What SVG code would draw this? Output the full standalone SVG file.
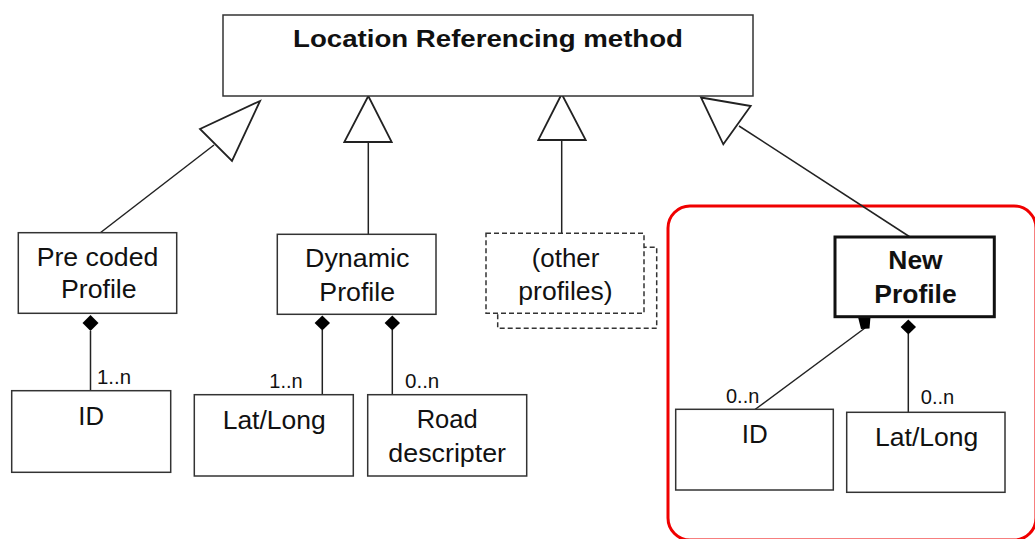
<svg xmlns="http://www.w3.org/2000/svg" width="1035" height="539" viewBox="0 0 1035 539">
<style>
.box{fill:#fff;stroke:#333;stroke-width:1.5}
.dash{fill:#fff;stroke:#333;stroke-width:1.5;stroke-dasharray:5,3}
.bold{fill:#fff;stroke:#111;stroke-width:3}
.ln{fill:none;stroke:#222;stroke-width:1.5}
.tri{fill:#fff;stroke:#222;stroke-width:1.8;stroke-linejoin:miter}
.dia{fill:#000;stroke:none}
.t{font-family:"Liberation Sans",Arial,sans-serif;font-size:25px;fill:#111;text-anchor:middle}
.tb{font-family:"Liberation Sans",Arial,sans-serif;font-size:25px;font-weight:bold;fill:#111;text-anchor:middle}
.m{font-family:"Liberation Sans",Arial,sans-serif;font-size:19.5px;fill:#111}
</style>
<rect x="0" y="0" width="1035" height="539" fill="#fff"/>
<rect x="668" y="206" width="368" height="334" rx="22" fill="none" stroke="#f00000" stroke-width="3"/>

<g id="connectors">
  <line class="ln" x1="100" y1="233" x2="214" y2="145"/>
  <polygon class="tri" points="260,101 200,129 232,161"/>
  <line class="ln" x1="368.3" y1="142" x2="368.3" y2="234"/>
  <polygon class="tri" points="368.3,96 344.3,142 391.7,142"/>
  <line class="ln" x1="561.7" y1="140" x2="561.7" y2="233"/>
  <polygon class="tri" points="561.7,94 538.3,140 585.7,140"/>
  <line class="ln" x1="739" y1="126" x2="910" y2="237"/>
  <polygon class="tri" points="701,97.5 750.7,106 723.3,144.3"/>

  <line class="ln" x1="90.5" y1="331" x2="90.5" y2="391"/>
  <polygon class="dia" points="90.5,315 98.5,323 90.5,331 82.5,323"/>
  <line class="ln" x1="322.3" y1="330" x2="322.3" y2="395"/>
  <polygon class="dia" points="322.3,315.5 330,323 322.3,330.5 314.6,323"/>
  <line class="ln" x1="392.3" y1="330" x2="392.3" y2="395"/>
  <polygon class="dia" points="392.3,315.5 400,323 392.3,330.5 384.6,323"/>
  <line class="ln" x1="865" y1="328" x2="755" y2="409.5"/>
  <polygon class="dia" points="858,317 870.5,317 869.5,328.5 861,329"/>
  <line class="ln" x1="908.3" y1="334" x2="908.3" y2="412.5"/>
  <polygon class="dia" points="908.3,319.5 916,327 908.3,334.5 900.6,327"/>

  <text class="m" x="97" y="384" textLength="34" lengthAdjust="spacingAndGlyphs">1..n</text>
  <text class="m" x="269.3" y="388.3" textLength="33.4" lengthAdjust="spacingAndGlyphs">1..n</text>
  <text class="m" x="405" y="388.3" textLength="34.3" lengthAdjust="spacingAndGlyphs">0..n</text>
  <text class="m" x="726" y="402.7" textLength="33.3" lengthAdjust="spacingAndGlyphs">0..n</text>
  <text class="m" x="920.7" y="404" textLength="33.6" lengthAdjust="spacingAndGlyphs">0..n</text>
</g>

<g id="location-referencing-method">
  <rect class="box" x="223" y="15" width="530" height="81"/>
  <text class="tb" x="488" y="47" style="font-size:24px" textLength="390" lengthAdjust="spacingAndGlyphs">Location Referencing method</text>
</g>

<g id="pre-coded-profile">
  <rect class="box" x="18.3" y="232.7" width="158.4" height="80.6"/>
  <text class="t" x="97.5" y="265.7" textLength="121.7" lengthAdjust="spacingAndGlyphs">Pre coded</text>
  <text class="t" x="98.8" y="298" textLength="75.7" lengthAdjust="spacingAndGlyphs">Profile</text>
</g>

<g id="dynamic-profile">
  <rect class="box" x="277.3" y="234.3" width="158.7" height="80"/>
  <text class="t" x="357.2" y="266.7" textLength="104.3" lengthAdjust="spacingAndGlyphs">Dynamic</text>
  <text class="t" x="357.2" y="301" textLength="75.7" lengthAdjust="spacingAndGlyphs">Profile</text>
</g>

<g id="other-profiles">
  <rect class="dash" x="497.7" y="247.3" width="159" height="81"/>
  <rect class="dash" x="486" y="233.3" width="158" height="80"/>
  <text class="t" x="565.5" y="266.7" textLength="67.7" lengthAdjust="spacingAndGlyphs">(other</text>
  <text class="t" x="565.5" y="300" textLength="94.3" lengthAdjust="spacingAndGlyphs">profiles)</text>
</g>

<g id="new-profile">
  <rect class="bold" x="835" y="237" width="159.3" height="79.7"/>
  <text class="tb" x="915.5" y="269.3" textLength="54.3" lengthAdjust="spacingAndGlyphs">New</text>
  <text class="tb" x="915.5" y="303.3" textLength="82.3" lengthAdjust="spacingAndGlyphs">Profile</text>
</g>

<g id="id-left">
  <rect class="box" x="11.7" y="390.7" width="159" height="81.6"/>
  <text class="t" x="91.2" y="425" textLength="25.7" lengthAdjust="spacingAndGlyphs">ID</text>
</g>

<g id="lat-long-left">
  <rect class="box" x="194.3" y="394.7" width="159" height="81.3"/>
  <text class="t" x="274.2" y="429.3" textLength="103" lengthAdjust="spacingAndGlyphs">Lat/Long</text>
</g>

<g id="road-descripter">
  <rect class="box" x="367.7" y="394.7" width="159" height="81.3"/>
  <text class="t" x="447.2" y="428.3" textLength="61" lengthAdjust="spacingAndGlyphs">Road</text>
  <text class="t" x="447.2" y="461.7" textLength="117.7" lengthAdjust="spacingAndGlyphs">descripter</text>
</g>

<g id="id-right">
  <rect class="box" x="675.7" y="409.3" width="157.6" height="80.7"/>
  <text class="t" x="754.7" y="442.7" textLength="26" lengthAdjust="spacingAndGlyphs">ID</text>
</g>

<g id="lat-long-right">
  <rect class="box" x="846.7" y="412.3" width="158.3" height="80"/>
  <text class="t" x="926.7" y="445.7" textLength="103.3" lengthAdjust="spacingAndGlyphs">Lat/Long</text>
</g>
</svg>
